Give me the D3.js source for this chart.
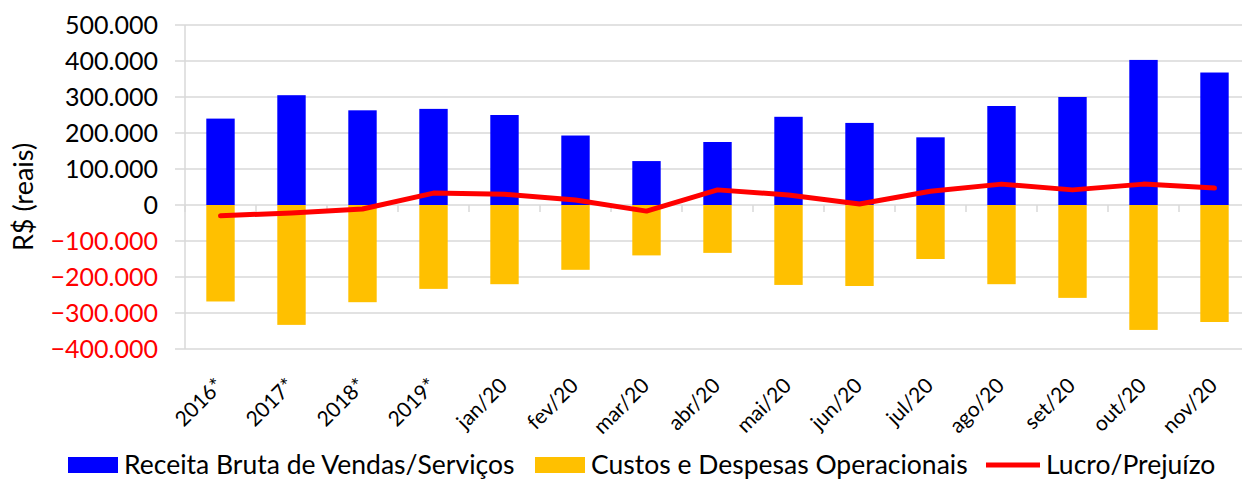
<!DOCTYPE html>
<html><head><meta charset="utf-8">
<script src="https://cdn.jsdelivr.net/npm/d3@7"></script>
<style>body{margin:0;background:#fff}svg{display:block}text{font-family:Lato,"Open Sans",sans-serif}</style>
</head><body>
<svg id="c" width="1242" height="479"></svg>
<script>
const categories = ["2016*","2017*","2018*","2019*","jan/20","fev/20","mar/20","abr/20","mai/20","jun/20","jul/20","ago/20","set/20","out/20","nov/20"];
const receita = [240000,305000,263000,267000,250000,193000,122000,175000,245000,228000,188000,275000,300000,403000,368000];
const custos = [-268000,-333000,-270000,-233000,-220000,-180000,-140000,-133000,-222000,-225000,-150000,-220000,-258000,-347000,-325000];
const lucro = [-30000,-22000,-11000,33000,30000,14000,-17000,42000,28000,3000,38000,58000,42000,58000,47000];
const yTicks = [500000,400000,300000,200000,100000,0,-100000,-200000,-300000,-400000];
const seriesNames = ["Receita Bruta de Vendas/Serviços","Custos e Despesas Operacionais","Lucro/Prejuízo"];

const svg = d3.select("#c");
const left = 185, step = 71;
const x = d3.scaleBand().domain(categories).range([left, left + step*categories.length]).paddingInner(0.6).paddingOuter(0.3);
const xb = d3.scaleBand().domain(categories).range([left, left + step*categories.length]);
const y = d3.scaleLinear().domain([-400000,500000]).range([349,25]);
const fmt = v => v === 0 ? "0" : d3.format(",")(v).replace(/,/g,".");
const grid = "#d9d9d9";

// gridlines
svg.append("g").selectAll("line").data(yTicks).join("line")
  .attr("x1", left-10).attr("x2", 1242).attr("y1", d=>y(d)).attr("y2", d=>y(d))
  .attr("stroke", grid).attr("stroke-width", 1.5);
svg.append("line").attr("x1", left).attr("x2", left).attr("y1", y(500000)).attr("y2", y(-400000))
  .attr("stroke", grid).attr("stroke-width", 1.5);
// tick labels
svg.append("g").selectAll("text").data(yTicks).join("text")
  .attr("x", 158).attr("y", d=>y(d)).attr("dy","0.35em").attr("text-anchor","end")
  .attr("font-size", 25).attr("fill", d => d < 0 ? "#ff0000" : "#000").text(fmt);
// x ticks at boundaries
svg.append("g").selectAll("line").data(d3.range(categories.length+1)).join("line")
  .attr("x1", i=>left+i*step).attr("x2", i=>left+i*step).attr("y1", y(0)).attr("y2", y(0)+7)
  .attr("stroke", grid).attr("stroke-width", 1.5);

// bars
svg.append("g").selectAll("rect").data(receita).join("rect")
  .attr("x",(d,i)=>x(categories[i])).attr("width",x.bandwidth())
  .attr("y",d=>y(d)).attr("height",d=>y(0)-y(d)).attr("fill","#0000ff");
svg.append("g").selectAll("rect").data(custos).join("rect")
  .attr("x",(d,i)=>x(categories[i])).attr("width",x.bandwidth())
  .attr("y",y(0)).attr("height",d=>y(d)-y(0)).attr("fill","#ffc000");
// line
const line = d3.line().x((d,i)=>xb(categories[i])+xb.bandwidth()/2).y(d=>y(d));
svg.append("path").datum(lucro).attr("d", line).attr("fill","none")
  .attr("stroke","#ff0000").attr("stroke-width",5).attr("stroke-linejoin","round").attr("stroke-linecap","round");

// x labels
svg.append("g").selectAll("text").data(categories).join("text")
  .attr("transform", d=>`translate(${xb(d)+xb.bandwidth()/2+4},${387}) rotate(-45)`)
  .attr("text-anchor","end").attr("font-size",21).attr("fill","#000").text(d=>d);

// y title
svg.append("text").attr("transform","translate(33,197) rotate(-90)").attr("text-anchor","middle")
  .attr("font-size",27).attr("fill","#000").text("R$ (reais)");

// legend
const ly = 465;
const lg = svg.append("g");
lg.append("rect").attr("x",68).attr("y",ly-8).attr("width",50).attr("height",16).attr("fill","#0000ff");
lg.append("text").attr("x",124).attr("y",ly).attr("dy","0.35em").attr("font-size",26.5).text(seriesNames[0]);
lg.append("rect").attr("x",535).attr("y",ly-8).attr("width",50).attr("height",16).attr("fill","#ffc000");
lg.append("text").attr("x",591).attr("y",ly).attr("dy","0.35em").attr("font-size",26.5).text(seriesNames[1]);
lg.append("line").attr("x1",986).attr("x2",1040).attr("y1",ly).attr("y2",ly).attr("stroke","#ff0000").attr("stroke-width",5);
lg.append("text").attr("x",1046).attr("y",ly).attr("dy","0.35em").attr("font-size",26.5).text(seriesNames[2]);
</script>
</body></html>
